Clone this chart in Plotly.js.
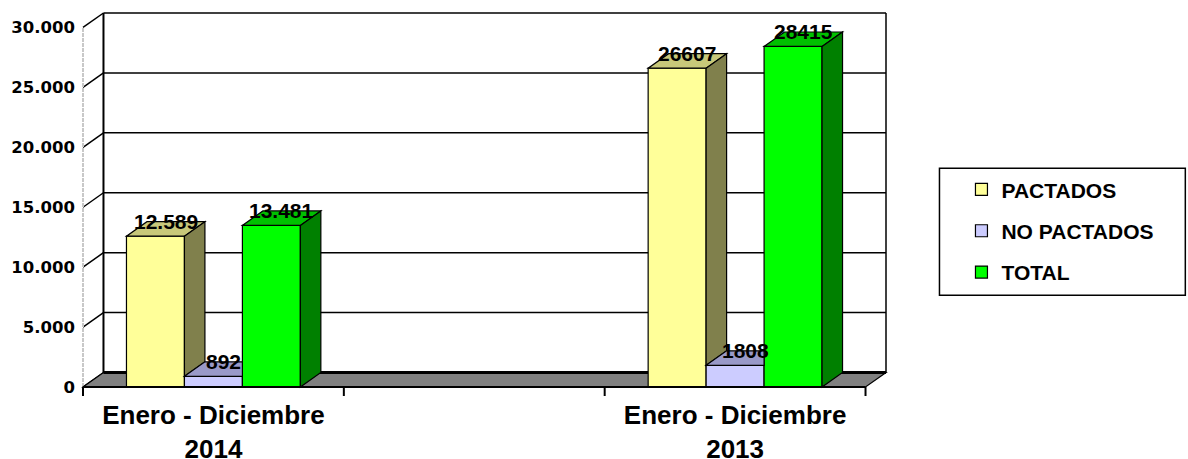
<!DOCTYPE html>
<html><head><meta charset="utf-8">
<script src="https://cdn.plot.ly/plotly-3.0.1.min.js"></script>
<style>html,body{margin:0;padding:0;background:#fff}#chart{width:1188px;height:459px}</style>
</head><body><div id="chart"></div>
<script>
// ---------- data ----------
const categoryPositions = [0, 2];            // slot 1 is an empty category
const categoryLabels = ['Enero - Diciembre<br>2014', 'Enero - Diciembre<br>2013'];
const seriesNames = ['PACTADOS', 'NO PACTADOS', 'TOTAL'];
const pactados = [12589, 26607];
const noPactados = [892, 1808];
const total = [13481, 28415];
const pactadosLabels = ['12.589', '26607'];
const noPactadosLabels = ['892', '1808'];
const totalLabels = ['13.481', '28415'];
const yTickValues = [0, 5000, 10000, 15000, 20000, 25000, 30000];
const yTickLabels = ['0', '5.000', '10.000', '15.000', '20.000', '25.000', '30.000'];

// ---------- styles ----------
const frontColors = ['#FFFF99', '#CCCCFF', '#00FF00'];
const topColors   = ['#C8C87A', '#9999C8', '#00C000'];
const sideColors  = ['#80804C', '#7A7AA0', '#008000'];

// ---------- geometry (pixels) ----------
const W = 1188, H = 459;
const FRONT_LEFT = 83, ZERO_Y = 387, PX_PER_UNIT_Y = 360 / 30000, CAT_W = 261;
const DEPTH_X = 20.5, DEPTH_Y = 14.5;
const PAD_L = 4, PAD_R = 4, PAD_T = 4, PAD_B = 10;
const nSlots = 3, yMax = 30000;
const BAR_W = 58 / CAT_W;

const plotLeft = FRONT_LEFT - PAD_L;
const plotRight = FRONT_LEFT + nSlots * CAT_W + DEPTH_X + PAD_R;
const plotTop = ZERO_Y - yMax * PX_PER_UNIT_Y - DEPTH_Y - PAD_T;
const plotBottom = ZERO_Y + PAD_B;
const xStart = -0.5, xEnd = xStart + nSlots;
const xRange = [xStart - PAD_L / CAT_W, xEnd + (DEPTH_X + PAD_R) / CAT_W];
const yRange = [-PAD_B / PX_PER_UNIT_Y, yMax + (DEPTH_Y + PAD_T) / PX_PER_UNIT_Y];
const dxu = DEPTH_X / CAT_W, dyu = DEPTH_Y / PX_PER_UNIT_Y;
const pxToPaperX = px => (px - plotLeft) / (plotRight - plotLeft);
const pxToPaperY = py => (plotBottom - py) / (plotBottom - plotTop);

const series = [pactados, noPactados, total];
const seriesLabels = [pactadosLabels, noPactadosLabels, totalLabels];

// ---------- traces ----------
const traces = series.map((vals, i) => ({
  type: 'bar',
  name: seriesNames[i],
  x: categoryPositions,
  y: vals,
  width: BAR_W,
  offset: (i - 1.5) * BAR_W,
  marker: { color: frontColors[i], line: { color: '#000', width: 1.2 } },
  legendgroup: 'g' + i,
  hoverinfo: 'skip'
}));

// ---------- shapes ----------
const shapes = [];
const L = (x0, y0, x1, y1, w, color, layer, dash) => shapes.push({
  type: 'line', xref: 'x', yref: 'y', x0, y0, x1, y1, layer: layer || 'below',
  line: { color: color || '#000', width: w, dash: dash || 'solid' }
});
// back wall grid + left diagonals
yTickValues.forEach(v => {
  L(xStart + dxu, v + dyu, xEnd + dxu, v + dyu, 1.5);
  L(xStart, v, xStart + dxu, v + dyu, 1.5);
});
L(xStart + dxu, dyu, xStart + dxu, yMax + dyu, 2);
L(xEnd + dxu, dyu, xEnd + dxu, yMax + dyu, 1.5);
L(xStart, 0, xStart, yMax, 2, '#C8C8C8', 'below', '4px,1px');
// floor
shapes.push({
  type: 'path', xref: 'x', yref: 'y', layer: 'below',
  path: `M${xStart},0 L${xEnd},0 L${xEnd + dxu},${dyu} L${xStart + dxu},${dyu} Z`,
  fillcolor: '#808080', line: { color: '#000', width: 1.2 }
});
L(xStart + dxu, dyu, xEnd + dxu, dyu, 3);

// 3D faces of bars
categoryPositions.forEach((pos, j) => {
  series.forEach((vals, i) => {
    const v = vals[j];
    const xl = pos + (i - 1.5) * BAR_W, xr = xl + BAR_W;
    const next = i < series.length - 1 ? series[i + 1][j] : 0;
    let topPath;
    if (next >= v) {
      topPath = `M${xl},${v} L${xr},${v} L${xr},${v + dyu} L${xl + dxu},${v + dyu} Z`;
    } else {
      topPath = `M${xl},${v} L${xr},${v} L${xr + dxu},${v + dyu} L${xl + dxu},${v + dyu} Z`;
    }
    shapes.push({ type: 'path', xref: 'x', yref: 'y', layer: 'above', path: topPath,
      fillcolor: topColors[i], line: { color: '#000', width: 1.2 } });
    if (next < v) {
      shapes.push({ type: 'path', xref: 'x', yref: 'y', layer: 'above',
        path: `M${xr},${v} L${xr + dxu},${v + dyu} L${xr + dxu},${next + dyu} L${xr},${next} Z`,
        fillcolor: sideColors[i], line: { color: '#000', width: 1.2 } });
    }
  });
});
// front x axis line and ticks
L(xStart, 0, xEnd, 0, 2, '#000', 'above');
for (let k = 0; k <= nSlots; k++) L(xStart + k, 0, xStart + k, -9 / PX_PER_UNIT_Y, 2, '#000', 'above');
// legend frame
shapes.push({ type: 'rect', xref: 'paper', yref: 'paper', layer: 'above',
  x0: pxToPaperX(940), x1: pxToPaperX(1186), y0: pxToPaperY(295), y1: pxToPaperY(168),
  line: { color: '#000', width: 1.5 }, fillcolor: 'rgba(0,0,0,0)' });

// ---------- data labels ----------
const annotations = [];
categoryPositions.forEach((pos, j) => {
  series.forEach((vals, i) => {
    const xl = pos + (i - 1.5) * BAR_W;
    annotations.push({
      xref: 'x', yref: 'y', x: xl + BAR_W / 2 + dxu / 2, y: vals[j] + dyu,
      text: seriesLabels[i][j], showarrow: false, xanchor: 'center', yanchor: 'middle',
      font: { family: 'Liberation Sans, Arial, sans-serif', size: 21, color: '#000', weight: 'bold' }
    });
  });
});

const layout = {
  width: W, height: H,
  margin: { l: plotLeft, r: W - plotRight, t: plotTop, b: H - plotBottom, pad: 0 },
  paper_bgcolor: '#fff', plot_bgcolor: 'rgba(0,0,0,0)',
  barmode: 'overlay',
  showlegend: true,
  legend: {
    x: pxToPaperX(962), xanchor: 'left', y: pxToPaperY(169), yanchor: 'top',
    bgcolor: 'rgba(0,0,0,0)', borderwidth: 0, traceorder: 'grouped', tracegroupgap: 11,
    itemwidth: 30,
    font: { family: 'Liberation Sans, Arial, sans-serif', size: 21, color: '#000', weight: 'bold' }
  },
  xaxis: {
    range: xRange, tickvals: categoryPositions, ticktext: categoryLabels,
    ticks: '', showgrid: false, zeroline: false, showline: false, fixedrange: true,
    tickfont: { family: 'Liberation Sans, Arial, sans-serif', size: 26, color: '#000', weight: 'bold' }
  },
  yaxis: {
    range: yRange, tickvals: yTickValues, ticktext: yTickLabels,
    ticks: '', showgrid: false, zeroline: false, showline: false, fixedrange: true,
    ticklabelstandoff: 3,
    tickfont: { family: 'DejaVu Sans, sans-serif', size: 16.5, color: '#000', weight: 'bold' }
  },
  shapes, annotations
};

Plotly.newPlot('chart', traces, layout, { displayModeBar: false, staticPlot: true });
</script>
</body></html>
